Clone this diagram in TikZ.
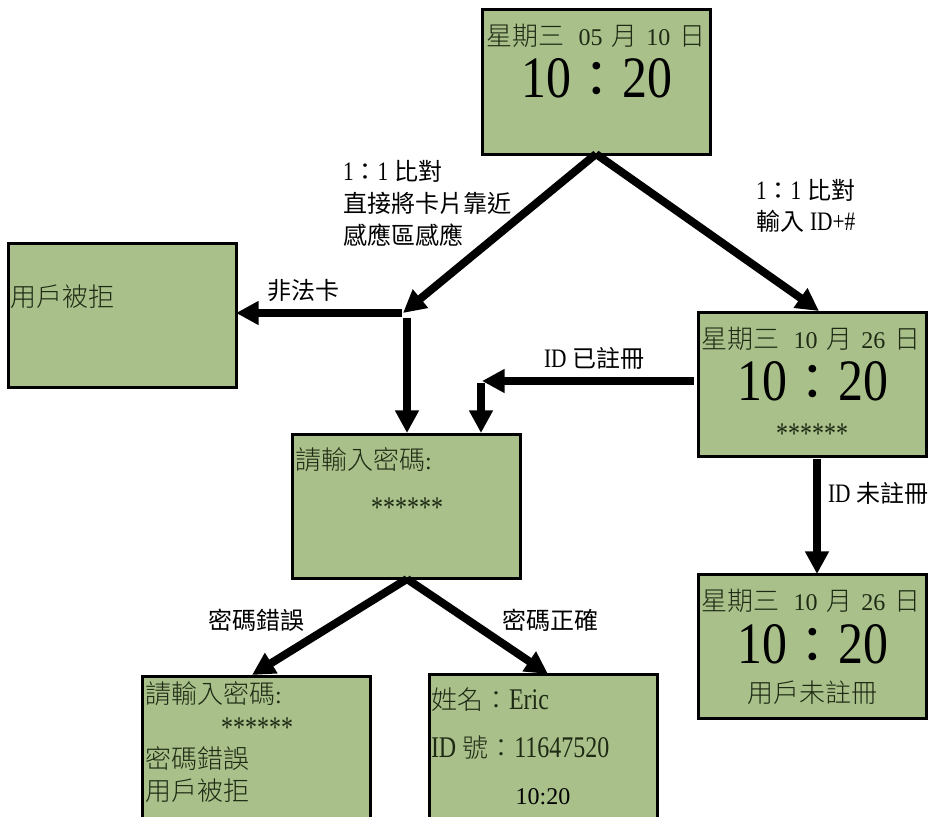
\documentclass[tikz,border=0pt]{standalone}
\usepackage{fontspec}
\usetikzlibrary{arrows.meta}
\setmainfont{Liberation Serif}
\newfontfamily\cjk{Noto Sans CJK TC}
\newfontfamily\cjkl{Noto Sans CJK TC Light}
\newfontfamily\bigserif[FakeStretch=.85]{Liberation Serif}
\newfontfamily\narrowserif[FakeStretch=.8]{Liberation Serif}
\newcommand\zh[1]{{\cjkl\fontsize{19.5}{22}\selectfont #1}}
\newcommand\lb[1]{{\cjk\fontsize{18}{22}\selectfont #1}}
\newcommand\nw[1]{{\narrowserif\fontsize{22.5}{24}\selectfont #1}}
\newcommand\nl[1]{{\narrowserif\fontsize{20}{24}\selectfont #1}}
\newcommand\clock{{\bigserif\fontsize{44}{48}\selectfont 10}{\cjk\fontsize{38}{40}\selectfont ：}{\bigserif\fontsize{44}{48}\selectfont 20}}
\newcommand\stars{\nw{******}}
\newcommand\dateline[2]{\zh{星期三}\kern 10.5pt #1\kern 6.7pt\zh{月}\kern 6.7pt #2\kern 6.7pt\zh{日}}
\definecolor{lcd}{HTML}{A9C08A}
\definecolor{ink}{HTML}{1E2A14}
\tikzset{
  screen/.style={draw=black,fill=lcd,line width=2.25pt,inner sep=0pt,outer sep=0pt,minimum width=171pt},
  sh/.style={screen,minimum height=108pt},
  tx/.style={inner sep=0pt,outer sep=0pt,font=\fontsize{18}{22}\selectfont,text=ink},
  lab/.style={inner sep=0pt,outer sep=0pt,font=\fontsize{18}{22}\selectfont,text=black},
  flow/.style={line width=6pt,-{Triangle[length=17pt,width=17pt]}}
}
\begin{document}
\begin{tikzpicture}[x=.75pt,y=-.75pt]
\useasboundingbox (0,0) rectangle (932,817);
\clip (0,0) rectangle (932,817);
\fill[white] (0,0) rectangle (932,817);
% screens
\node[sh] (top) at (596,82) {};
\node[sh] (rej) at (122.5,315.5) {};
\node[sh] (pw) at (406,506.5) {};
\node[screen,minimum height=150pt] (bad) at (256.5,776) {};
\node[screen,minimum height=150pt] (ok) at (543,774) {};
\node[sh] (r1) at (812,384.5) {};
\node[sh] (r2) at (812,646) {};
% junctions
\coordinate (j1) at (403,313);
\coordinate (j1a) at (402,313);
\coordinate (j1b) at (407,318);
\coordinate (rejin) at (236,313);
\coordinate (j2) at (482,381);
\coordinate (j2b) at (481,383);
\coordinate (r1in) at (819,311);
\coordinate (r1out) at (694,381);
\coordinate (r1s) at (817,459);
\coordinate (r2in) at (817,574);
\coordinate (pwa) at (407,433);
\coordinate (pwb) at (481,433);
\coordinate (pws) at (407,579);
\coordinate (badin) at (252,675);
\coordinate (okin) at (548,674);
% connectors
\draw[flow] (top.south) -- (j1);
\draw[flow] (top.south) -- (r1in);
\draw[flow] (j1a) -- (rejin);
\draw[flow] (j1b) -- (pwa);
\draw[flow] (r1out) -- (j2);
\draw[flow] (j2b) -- (pwb);
\draw[flow] (r1s) -- (r2in);
\draw[flow] (pws) -- (badin);
\draw[flow] (pws) -- (okin);
% top screen text
\node[tx,anchor=base] (t1) at (596,46) {\dateline{05}{10}};
\node[lab,anchor=base] (t2) at (597,98) {\clock};
% reject
\node[tx,anchor=base west] (rj) at (11,306) {\zh{用戶被拒}};
% password
\node[tx,anchor=base west] (p1) at (295,469) {\zh{請輸入密碼}:};
\node[tx,anchor=base] (p2) at (407,517) {\stars};
% bad
\node[tx,anchor=base west] (b1) at (145,703) {\zh{請輸入密碼}:};
\node[tx,anchor=base] (b2) at (257,737) {\stars};
\node[tx,anchor=base west] (b3) at (145,768) {\zh{密碼錯誤}};
\node[tx,anchor=base west] (b4) at (145,800) {\zh{用戶被拒}};
% ok
\node[tx,anchor=base west] (o1) at (431,709) {\zh{姓名：}\nw{Eric}};
\node[tx,anchor=base west] (o2) at (431,757) {\nw{ID} \zh{號：}\nw{11647520}};
\node[lab,anchor=base] (o3) at (543,804) {10:20};
% right 1
\node[tx,anchor=base] (a1) at (811,348) {\dateline{10}{26}};
\node[lab,anchor=base] (a2) at (813,400) {\clock};
\node[tx,anchor=base] (a3) at (812,443) {\stars};
% right 2
\node[tx,anchor=base] (c1) at (811,610) {\dateline{10}{26}};
\node[lab,anchor=base] (c2) at (813,663) {\clock};
\node[tx,anchor=base] (c3) at (812,702) {\zh{用戶未註冊}};
% connector labels
\node[lab,anchor=base west] (l1) at (343,180) {\nl{1}\lb{：}\nl{1} \lb{比對}};
\node[lab,anchor=base west] (l2) at (343,212) {\lb{直接將卡片靠近}};
\node[lab,anchor=base west] (l3) at (343,244) {\lb{感應區感應}};
\node[lab,anchor=base west] (l4) at (267,299) {\lb{非法卡}};
\node[lab,anchor=base west] (l5) at (756,199) {\nl{1}\lb{：}\nl{1} \lb{比對}};
\node[lab,anchor=base west] (l6) at (756,230) {\lb{輸入} \nl{ID+\#}};
\node[lab,anchor=base west] (l7) at (544,367) {\nl{ID} \lb{已註冊}};
\node[lab,anchor=base west] (l8) at (828,502) {\nl{ID} \lb{未註冊}};
\node[lab,anchor=base west] (l9) at (208,629) {\lb{密碼錯誤}};
\node[lab,anchor=base west] (l10) at (502,629) {\lb{密碼正確}};
\end{tikzpicture}
\end{document}
